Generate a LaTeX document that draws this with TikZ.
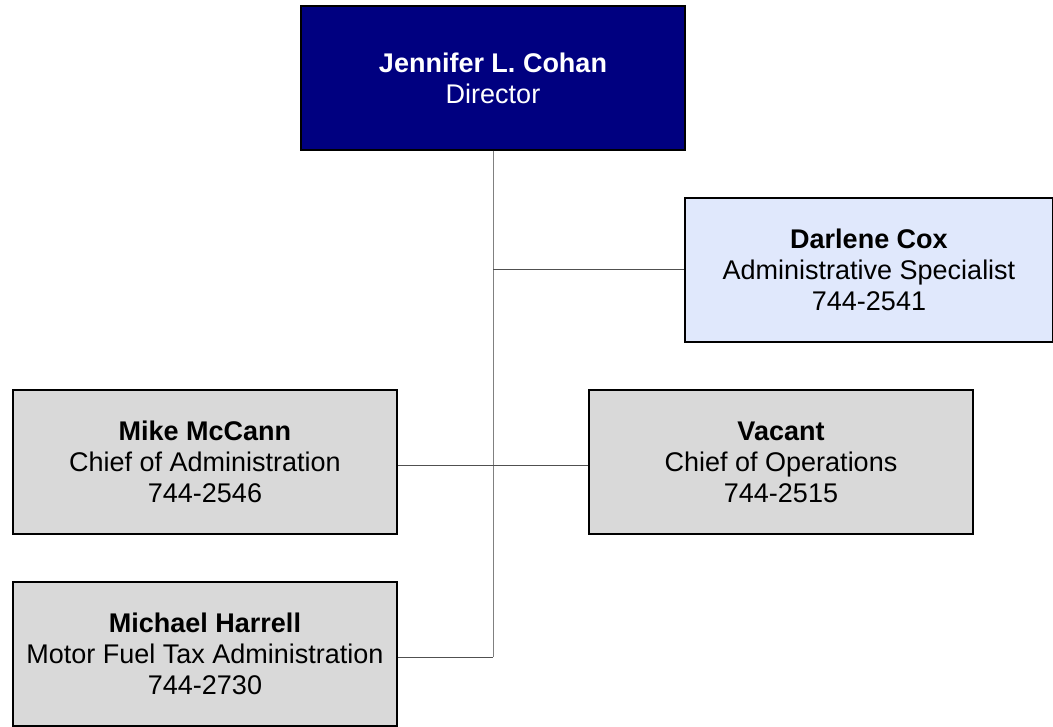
\documentclass[tikz,border=0pt]{standalone}
\usepackage{fontspec}
\setmainfont{Liberation Sans}
\definecolor{navyfill}{HTML}{000080}
\definecolor{grayfill}{HTML}{D9D9D9}
\definecolor{bluefill}{HTML}{E0E8FC}
\definecolor{trunkgray}{HTML}{808080}
\definecolor{branchgray}{HTML}{505050}
\begin{document}
\begin{tikzpicture}[x=1pt,y=-1pt,
  box/.style={draw=black, line width=1.5pt, minimum width=384pt, minimum height=144pt,
    align=center, inner sep=0pt, font=\fontsize{27}{31}\selectfont},
  dirbox/.style={box, fill=navyfill, text=white},
  graybox/.style={box, fill=grayfill},
  bluebox/.style={box, fill=bluefill, minimum width=368pt},
  trunk/.style={draw=trunkgray, line width=1pt},
  branch/.style={draw=branchgray, line width=1pt}]
\useasboundingbox (0,0) rectangle (1053,727);
\fill[white] (0,0) rectangle (1053,727);
\node[dirbox] (dir) at (493,78) {\textbf{Jennifer L. Cohan}\\Director};
\node[bluebox] (cox) at (869,270) {\textbf{Darlene Cox}\\Administrative Specialist\\744-2541};
\node[graybox] (mcc) at (205,462) {\textbf{Mike McCann}\\Chief of Administration\\744-2546};
\node[graybox] (vac) at (781,462) {\textbf{Vacant}\\Chief of Operations\\744-2515};
\node[graybox] (har) at (205,654) {\textbf{Michael Harrell}\\Motor Fuel Tax Administration\\744-2730};
\coordinate (bot) at (493,657);
\coordinate (jcox) at (493,270);
\draw[trunk] (dir.south) -- (bot);
\draw[branch] (jcox) -- (cox.west);
\draw[branch] ([yshift=-3pt]mcc.east) -- ([yshift=-3pt]vac.west);
\draw[branch] ([yshift=-3pt]har.east) -- (bot);
\end{tikzpicture}
\end{document}
